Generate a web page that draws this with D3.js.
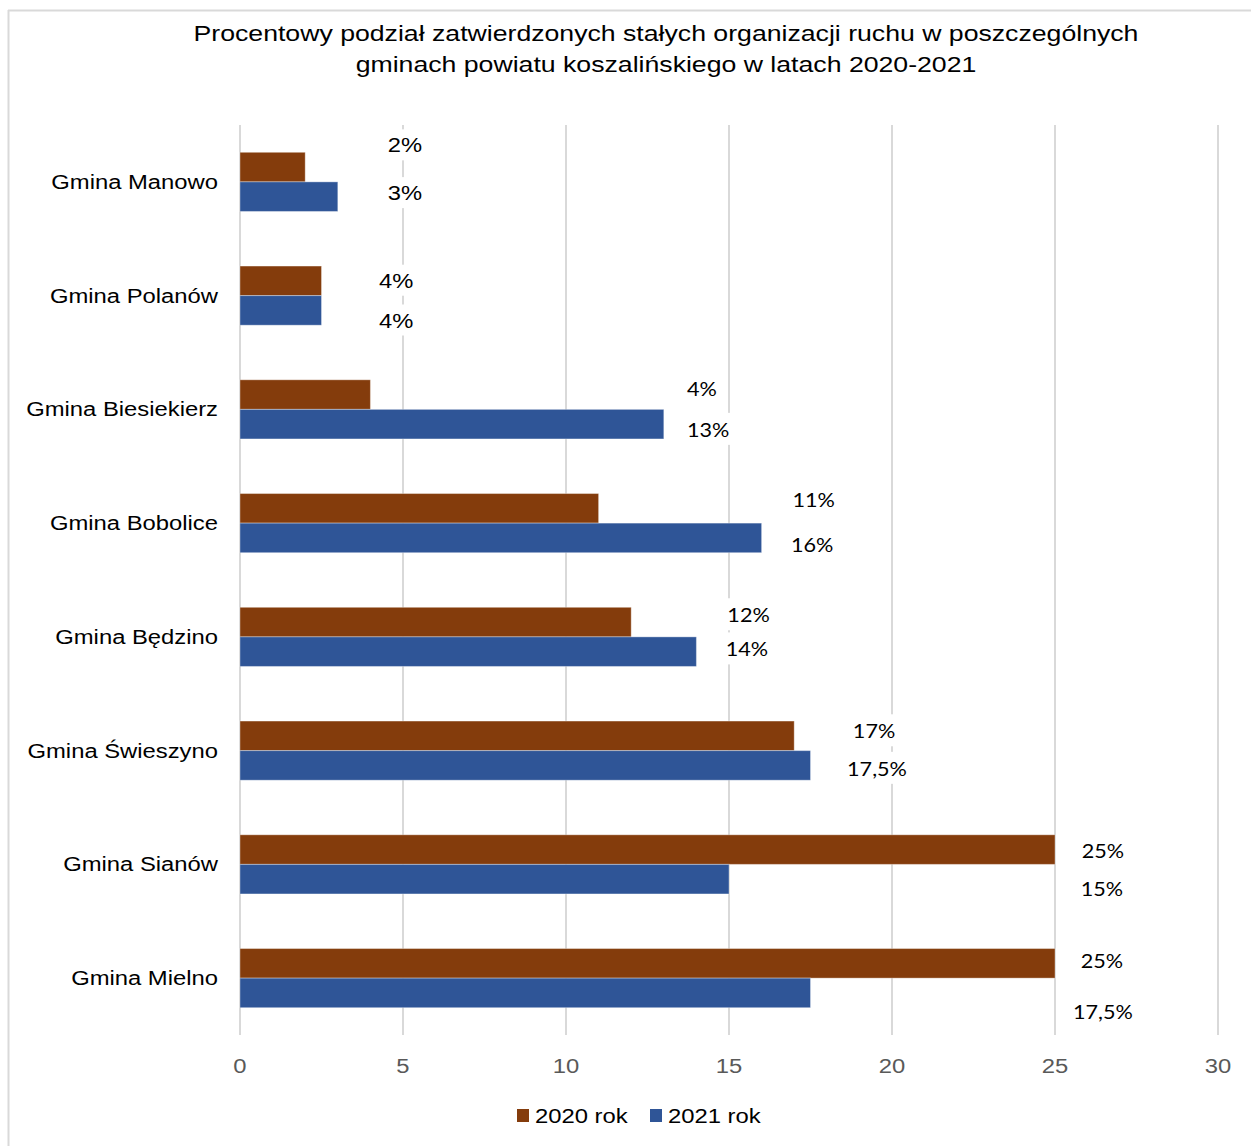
<!DOCTYPE html>
<html><head><meta charset="utf-8">
<script src="https://cdn.jsdelivr.net/npm/d3@7"></script>
<style>body{margin:0;background:#fff}svg{display:block}</style>
</head><body>
<svg id="chart" width="1251" height="1146"></svg>
<script>
const categories = ["Gmina Manowo","Gmina Polanów","Gmina Biesiekierz","Gmina Bobolice","Gmina Będzino","Gmina Świeszyno","Gmina Sianów","Gmina Mielno"];
const values2020 = [2, 2.5, 4, 11, 12, 17, 25, 25];
const values2021 = [3, 2.5, 13, 16, 14, 17.5, 15, 17.5];
const labels2020 = ["2%","4%","4%","11%","12%","17%","25%","25%"];
const labels2021 = ["3%","4%","13%","16%","14%","17,5%","15%","17,5%"];
// manually placed data label anchors (axis units) as in the original
const labelX2020 = [5.06, 4.79, 14.17, 17.6, 15.6, 19.45, 26.47, 26.44];
const labelX2021 = [5.06, 4.79, 14.36, 17.55, 15.55, 19.54, 26.44, 26.47];
const labelDy2020 = [-0.33, -0.14, -0.18, -0.2, -0.19, -0.17, -0.12, -0.15];
const labelDy2021 = [0.09, 0.21, 0.18, 0.19, 0.11, 0.16, 0.22, 0.3];
const xTicks = [0, 5, 10, 15, 20, 25, 30];
const seriesNames = ["2020 rok", "2021 rok"];
const colors = ["#843C0C", "#2F5597"];

(function () {
const svg = d3.select("#chart");
const W = 1251, H = 1146;
const pLeft = 240, pRight = 1218, pTop = 125, pBottom = 1035;
const SANS = "Liberation Sans, Arial, sans-serif";
const STRETCH = 1.19;

function stretch(sel, f) {
  sel.each(function () {
    const w = this.getComputedTextLength();
    d3.select(this).attr("textLength", w * f).attr("lengthAdjust", "spacingAndGlyphs");
  });
}

// chart border (top + left)
svg.append("line").attr("x1", 8).attr("x2", W).attr("y1", 10.5).attr("y2", 10.5).attr("stroke", "#d9d9d9").attr("stroke-width", 2);
svg.append("line").attr("x1", 8.5).attr("x2", 8.5).attr("y1", 10).attr("y2", H).attr("stroke", "#d9d9d9").attr("stroke-width", 2);

// title
const titleLines = ["Procentowy podział zatwierdzonych stałych organizacji ruchu w poszczególnych",
                    "gminach powiatu koszalińskiego w latach 2020-2021"];
const title = svg.append("g").selectAll("text").data(titleLines).join("text")
  .attr("x", 666).attr("y", (d, i) => 41 + i * 31).attr("text-anchor", "middle")
  .attr("font-family", SANS).attr("font-size", 22.4).attr("fill", "#000").text(d => d);
stretch(title, STRETCH);

const x = d3.scaleLinear().domain([0, 30]).range([pLeft, pRight]);
const y = d3.scaleBand().domain(categories).range([pTop, pBottom]).paddingInner(0.48).paddingOuter(0.24);
const step = y.step();
const ySub = d3.scaleBand().domain(seriesNames).range([0, y.bandwidth()]);

// gridlines
svg.append("g").selectAll("line").data(xTicks).join("line")
  .attr("x1", d => x(d)).attr("x2", d => x(d))
  .attr("y1", pTop).attr("y2", pBottom)
  .attr("stroke", "#d9d9d9").attr("stroke-width", 2);

// x axis tick labels
const ticks = svg.append("g").selectAll("text").data(xTicks).join("text")
  .attr("x", d => x(d)).attr("y", 1073).attr("text-anchor", "middle")
  .attr("font-family", SANS).attr("font-size", 20).attr("fill", "#595959")
  .text(d => d);
stretch(ticks, STRETCH);

// category labels
const cats = svg.append("g").selectAll("text").data(categories).join("text")
  .attr("x", 218).attr("y", d => y(d) + y.bandwidth() / 2 + 7).attr("text-anchor", "end")
  .attr("font-family", SANS).attr("font-size", 20).attr("fill", "#000")
  .text(d => d);
stretch(cats, STRETCH);

const series = [values2020, values2021];
series.forEach((vals, si) => {
  svg.append("g").selectAll("rect").data(categories).join("rect")
    .attr("x", x(0))
    .attr("y", d => y(d) + ySub(seriesNames[si]))
    .attr("width", (d, i) => x(vals[i]) - x(0))
    .attr("height", ySub.bandwidth())
    .attr("fill", colors[si])
    .attr("stroke", "#ffffff").attr("stroke-opacity", 0.35).attr("stroke-width", 1);
});

// data labels with white background (first two categories use an Arial-style face in the original)
const lblSets = [[labels2020, labelX2020, labelDy2020], [labels2021, labelX2021, labelDy2021]];
const lg = svg.append("g");
lblSets.forEach(([txt, lx, ldy]) => {
  categories.forEach((c, i) => {
    const arial = i < 2;
    const cx = x(lx[i]);
    const cy = y(c) + y.bandwidth() / 2 + ldy[i] * step;
    const t = lg.append("text").attr("x", cx).attr("y", cy + (arial ? 8 : 7)).attr("text-anchor", "middle")
      .attr("font-family", arial ? SANS : "Lato, Carlito, Calibri, sans-serif")
      .attr("font-size", arial ? 21 : 20).attr("fill", "#000")
      .text(txt[i]);
    stretch(t, arial ? 1.13 : 1.08);
    const bb = t.node().getBBox();
    lg.insert("rect", () => t.node())
      .attr("x", bb.x - 10).attr("y", bb.y - 4).attr("width", bb.width + 20).attr("height", bb.height + 8)
      .attr("fill", "#fff");
  });
});

// legend
const legend = svg.append("g").attr("font-family", SANS).attr("font-size", 20);
const legX = [517, 650];
seriesNames.forEach((n, i) => {
  legend.append("rect").attr("x", legX[i]).attr("y", 1109).attr("width", 12).attr("height", 13).attr("fill", colors[i]);
  const lt = legend.append("text").attr("x", legX[i] + 18).attr("y", 1123).attr("fill", "#000").text(n);
  stretch(lt, STRETCH);
});
})();
</script>
</body></html>
